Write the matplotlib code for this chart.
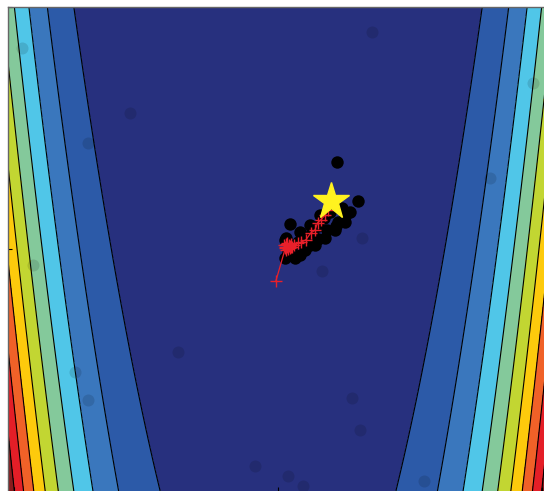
import numpy as np
import matplotlib
matplotlib.use("Agg")
import matplotlib.pyplot as plt
from matplotlib.colors import ListedColormap, BoundaryNorm

# band colours of the filled contour (low -> high)
band_colors = ['#27307e', '#2c5aa8', '#3a77bd', '#50c6e8', '#84c99b',
               '#c2d632', '#fdca0c', '#f06128', '#e41e27', '#8a1b1d']
levels = [0, 10000, 20000, 30000, 40000, 50000, 60000, 70000, 80000, 90000, 100000]

# current population (black), earlier samples (faint)
pop_x = [1.12, 1.52, 0.23, 1.14, 0.19, 0.27, 0.38, 0.51, 0.64, 0.75, 0.88,
         0.99, 1.21, 1.27, 1.10, 0.42, 0.16, 0.60, 0.75, 0.93,
         0.13, 0.32, 0.51, 0.70, 0.89, 1.08, 1.27, 1.36, 0.42, 0.61, 0.80, 0.13]
pop_y = [1.80, 0.99, 0.52, 0.56, -0.06, 0.06, 0.14, 0.23, 0.35, 0.48, 0.64,
         0.76, 0.85, 0.68, 0.48, -0.12, 0.23, 0.08, 0.20, 0.40,
         -0.19, -0.19, -0.02, 0.08, 0.23, 0.39, 0.56, 0.76, 0.35, 0.50, 0.70, 0.19]
old_x = [1.78, -2.80, 4.02, 1.59, 0.83, -1.90, 1.40, 1.56, -0.43, 0.19,
         0.47, 2.77, -3.60, -3.85, -4.85, -3.60, -4.64, 4.83]
old_y = [4.48, 2.81, 1.47, 0.23, -0.45, -2.13, -3.08, -3.74, -4.48, -4.69,
         -4.90, -4.79, -3.12, -2.54, 4.15, 2.19, -0.33, 3.43]

# path of the mean (red +)
path_x = [-0.04, 0.14, 0.11, 0.18, 0.15, 0.21, 0.17, 0.23, 0.20, 0.25, 0.13,
          0.19, 0.16, 0.22, 0.27, 0.24, 0.30, 0.37, 0.44, 0.53, 0.62, 0.70,
          0.75, 0.81, 0.89, 0.95]
path_y = [-0.66, 0.02, 0.08, 0.04, -0.03, 0.06, 0.12, 0.02, 0.09, 0.05, 0.04,
          0.00, 0.10, 0.07, 0.05, 0.10, 0.08, 0.12, 0.14, 0.19, 0.33, 0.39,
          0.54, 0.60, 0.70, 0.80]

opt_x, opt_y = [1.0], [1.0]

gx = np.linspace(-5.12, 5.12, 500)
gy = np.linspace(-5, 5, 500)
X, Y = np.meshgrid(gx, gy)
Z = (1 - X) ** 2 + 100 * (Y - X ** 2) ** 2

fig = plt.figure(figsize=(5.44, 4.91), dpi=100)
ax = fig.add_axes([8 / 544, 0, 540 / 544, 484 / 491])

cmap = ListedColormap(band_colors)
norm = BoundaryNorm(levels, cmap.N)
ax.contourf(X, Y, Z, levels=levels, cmap=cmap, norm=norm)
ax.contour(X, Y, Z, levels=levels[1:-1], colors='k', linewidths=0.8)

ax.scatter(old_x, old_y, s=75, c='k', alpha=0.12, linewidths=0, zorder=3)
ax.scatter(pop_x, pop_y, s=80, c='k', linewidths=0, zorder=4)
ax.plot(path_x, path_y, color='#e8202a', marker='+', markersize=9,
        markeredgewidth=1.0, linewidth=0.9, zorder=5)
ax.plot(opt_x, opt_y, marker='*', color='#fff21f', markersize=28,
        markeredgecolor='#fff21f', linestyle='none', zorder=6)

ax.set_xlim(-5.12, 5.12)
ax.set_ylim(-5, 5)
ax.set_xticks([-5, 0, 5])
ax.set_yticks([-5, 0, 5])
ax.tick_params(direction='in', length=3, labelbottom=False, labelleft=False)
for side in ['right', 'bottom']:
    ax.spines[side].set_visible(False)
for side in ['left', 'top']:
    ax.spines[side].set_color('#666666')
    ax.spines[side].set_linewidth(1.0)

fig.savefig('out.png', dpi=100)
